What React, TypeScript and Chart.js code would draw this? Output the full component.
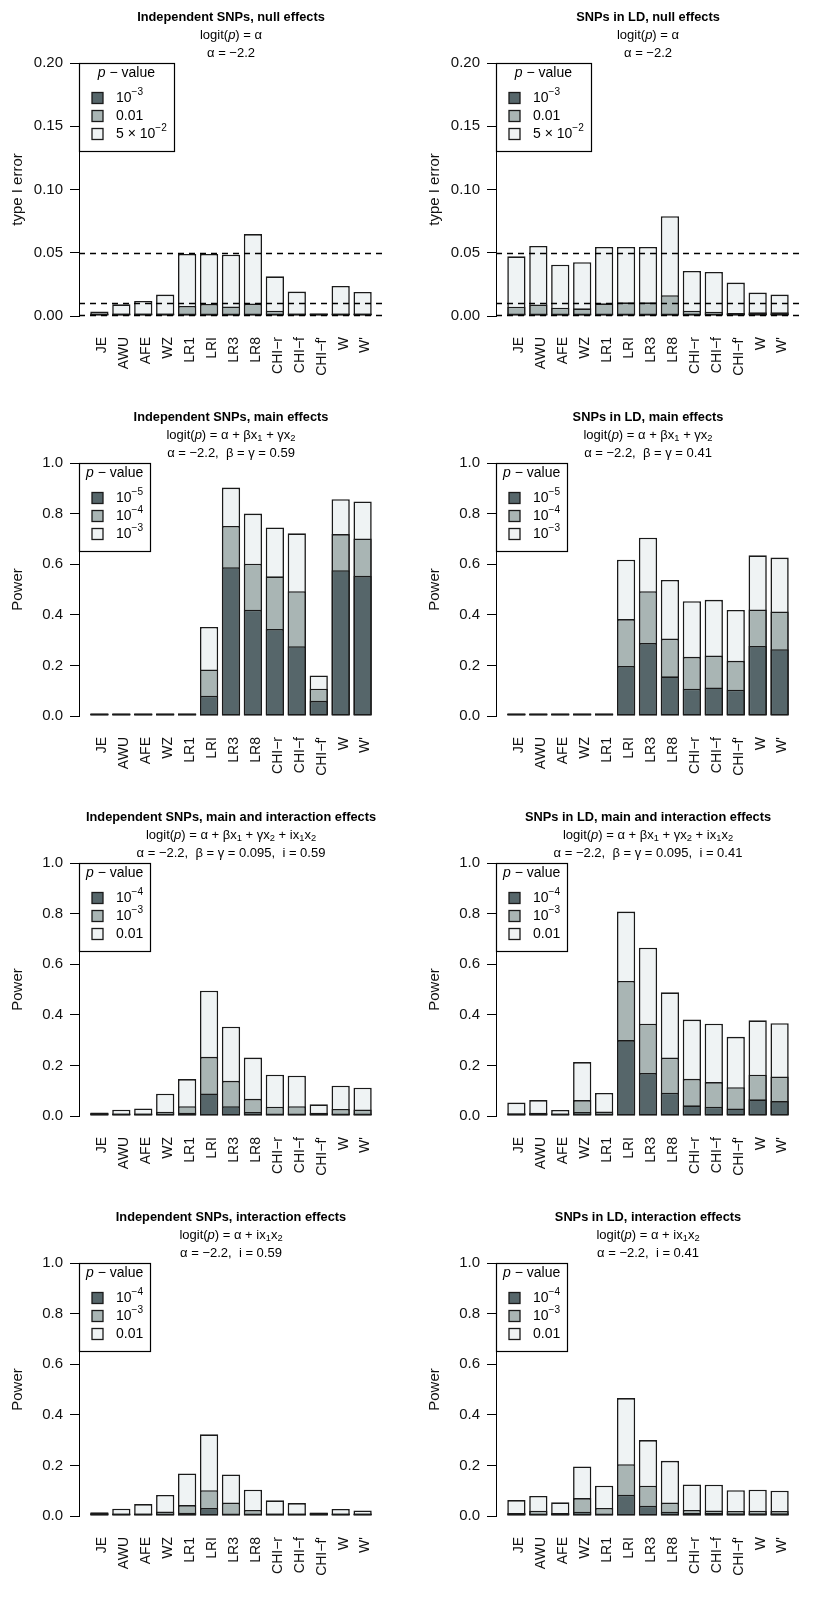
import React, { useEffect, useRef } from "react";
import { Chart, registerables } from "chart.js";

Chart.register(...registerables);

const FONT = '"Liberation Sans", Arial, Helvetica, sans-serif';

const CATEGORIES = ["JE", "AWU", "AFE", "WZ", "LR1", "LRI", "LR3", "LR8", "CHI\u2212r", "CHI\u2212f", "CHI\u2212f'", "W", "W'"];

const Y_TICKS_NULL = [0, 0.05, 0.1, 0.15, 0.2];
const Y_TICKS_POWER = [0, 0.2, 0.4, 0.6, 0.8, 1.0];
const NULL_THRESHOLDS = [0.05, 0.01, 0.001];

const LEGEND_NULL = ["10[\u22123]", "0.01", "5 \u00d7 10[\u22122]"];
const LEGEND_MAIN = ["10[\u22125]", "10[\u22124]", "10[\u22123]"];
const LEGEND_INT = ["10[\u22124]", "10[\u22123]", "0.01"];

// Panel 1: Independent SNPs, null effects
const indepNullDark = [0.0005, 0.0004, 0.0005, 0.0007, 0.001, 0.001, 0.0009, 0.0012, 0.0006, 0.0005, 0.0004, 0.0005, 0.0005];
const indepNullMid = [0.001, 0.0009, 0.0012, 0.002, 0.008, 0.0095, 0.0075, 0.0098, 0.0042, 0.002, 0.0008, 0.002, 0.0018];
const indepNullLight = [0.0035, 0.0092, 0.0119, 0.0169, 0.049, 0.049, 0.0485, 0.0648, 0.0314, 0.0193, 0.0012, 0.0237, 0.019];

// Panel 2: SNPs in LD, null effects
const ldNullDark = [0.001, 0.001, 0.0008, 0.0008, 0.0011, 0.0013, 0.0012, 0.0016, 0.0006, 0.0005, 0.0004, 0.0006, 0.0006];
const ldNullMid = [0.0074, 0.009, 0.0066, 0.0061, 0.01, 0.0108, 0.0108, 0.0164, 0.0042, 0.0034, 0.0024, 0.0029, 0.0029];
const ldNullLight = [0.0472, 0.0554, 0.0406, 0.0425, 0.0546, 0.0546, 0.0546, 0.0789, 0.0356, 0.0348, 0.0264, 0.0185, 0.0169];

// Panel 3: Independent SNPs, main effects
const indepMainDark = [0.001, 0.001, 0.002, 0.001, 0.001, 0.08, 0.588, 0.42, 0.344, 0.276, 0.06, 0.576, 0.554];
const indepMainMid = [0.002, 0.002, 0.003, 0.002, 0.001, 0.184, 0.751, 0.602, 0.552, 0.493, 0.108, 0.719, 0.702];
const indepMainLight = [0.003, 0.003, 0.004, 0.002, 0.002, 0.352, 0.903, 0.8, 0.745, 0.722, 0.16, 0.857, 0.848];

// Panel 4: SNPs in LD, main effects
const ldMainDark = [0.001, 0.001, 0.003, 0.003, 0.001, 0.198, 0.289, 0.157, 0.108, 0.113, 0.104, 0.277, 0.264];
const ldMainMid = [0.001, 0.002, 0.004, 0.004, 0.002, 0.383, 0.493, 0.306, 0.234, 0.239, 0.218, 0.421, 0.413];
const ldMainLight = [0.002, 0.003, 0.005, 0.005, 0.002, 0.618, 0.705, 0.538, 0.454, 0.459, 0.419, 0.635, 0.626];

// Panel 5: Independent SNPs, main and interaction effects
const indepBothDark = [0.004, 0.001, 0.003, 0.008, 0.013, 0.089, 0.039, 0.016, 0.008, 0.007, 0.004, 0.006, 0.006];
const indepBothMid = [0.012, 0.003, 0.006, 0.017, 0.039, 0.234, 0.139, 0.068, 0.037, 0.039, 0.013, 0.028, 0.026];
const indepBothLight = [0.014, 0.025, 0.03, 0.088, 0.146, 0.495, 0.353, 0.231, 0.163, 0.159, 0.046, 0.12, 0.112];

// Panel 6: SNPs in LD, main and interaction effects
const ldBothDark = [0.004, 0.005, 0.003, 0.016, 0.008, 0.3, 0.17, 0.092, 0.042, 0.037, 0.03, 0.066, 0.059];
const ldBothMid = [0.0105, 0.013, 0.005, 0.063, 0.018, 0.534, 0.365, 0.231, 0.147, 0.134, 0.114, 0.163, 0.156];
const ldBothLight = [0.053, 0.063, 0.024, 0.213, 0.091, 0.808, 0.665, 0.489, 0.381, 0.365, 0.313, 0.378, 0.367];

// Panel 7: Independent SNPs, interaction effects
const indepIntDark = [0.008, 0.001, 0.001, 0.005, 0.013, 0.032, 0.01, 0.005, 0.005, 0.002, 0.002, 0.002, 0.001];
const indepIntMid = [0.012, 0.002, 0.003, 0.018, 0.043, 0.102, 0.053, 0.024, 0.009, 0.005, 0.013, 0.004, 0.003];
const indepIntLight = [0.015, 0.029, 0.047, 0.083, 0.168, 0.323, 0.164, 0.104, 0.062, 0.051, 0.014, 0.028, 0.022];

// Panel 8: SNPs in LD, interaction effects
const ldIntDark = [0.006, 0.009, 0.006, 0.017, 0.01, 0.084, 0.041, 0.017, 0.012, 0.012, 0.011, 0.011, 0.011];
const ldIntMid = [0.012, 0.021, 0.012, 0.071, 0.032, 0.205, 0.12, 0.053, 0.024, 0.022, 0.02, 0.021, 0.02];
const ldIntLight = [0.063, 0.079, 0.054, 0.196, 0.12, 0.466, 0.3, 0.218, 0.125, 0.124, 0.102, 0.104, 0.1];

const DARK = "#56666a";
const MID = "#a9b5b4";
const LIGHT = "#eff3f4";
const EDGE = "#1a1a1a";

const PANELS = [
  { titles: ["Independent SNPs, null effects", "logit(_p_) = \u03b1", "\u03b1 = \u22122.2"], yTitle: "type I error", yTicks: Y_TICKS_NULL, dec: 2, legend: LEGEND_NULL, thresholds: NULL_THRESHOLDS, dark: indepNullDark, mid: indepNullMid, light: indepNullLight },
  { titles: ["SNPs in LD, null effects", "logit(_p_) = \u03b1", "\u03b1 = \u22122.2"], yTitle: "type I error", yTicks: Y_TICKS_NULL, dec: 2, legend: LEGEND_NULL, thresholds: NULL_THRESHOLDS, dark: ldNullDark, mid: ldNullMid, light: ldNullLight },
  { titles: ["Independent SNPs, main effects", "logit(_p_) = \u03b1 + \u03b2x{1} + \u03b3x{2}", "\u03b1 = \u22122.2,  \u03b2 = \u03b3 = 0.59"], yTitle: "Power", yTicks: Y_TICKS_POWER, dec: 1, legend: LEGEND_MAIN, thresholds: null, dark: indepMainDark, mid: indepMainMid, light: indepMainLight },
  { titles: ["SNPs in LD, main effects", "logit(_p_) = \u03b1 + \u03b2x{1} + \u03b3x{2}", "\u03b1 = \u22122.2,  \u03b2 = \u03b3 = 0.41"], yTitle: "Power", yTicks: Y_TICKS_POWER, dec: 1, legend: LEGEND_MAIN, thresholds: null, dark: ldMainDark, mid: ldMainMid, light: ldMainLight },
  { titles: ["Independent SNPs, main and interaction effects", "logit(_p_) = \u03b1 + \u03b2x{1} + \u03b3x{2} + ix{1}x{2}", "\u03b1 = \u22122.2,  \u03b2 = \u03b3 = 0.095,  i = 0.59"], yTitle: "Power", yTicks: Y_TICKS_POWER, dec: 1, legend: LEGEND_INT, thresholds: null, dark: indepBothDark, mid: indepBothMid, light: indepBothLight },
  { titles: ["SNPs in LD, main and interaction effects", "logit(_p_) = \u03b1 + \u03b2x{1} + \u03b3x{2} + ix{1}x{2}", "\u03b1 = \u22122.2,  \u03b2 = \u03b3 = 0.095,  i = 0.41"], yTitle: "Power", yTicks: Y_TICKS_POWER, dec: 1, legend: LEGEND_INT, thresholds: null, dark: ldBothDark, mid: ldBothMid, light: ldBothLight },
  { titles: ["Independent SNPs, interaction effects", "logit(_p_) = \u03b1 + ix{1}x{2}", "\u03b1 = \u22122.2,  i = 0.59"], yTitle: "Power", yTicks: Y_TICKS_POWER, dec: 1, legend: LEGEND_INT, thresholds: null, dark: indepIntDark, mid: indepIntMid, light: indepIntLight },
  { titles: ["SNPs in LD, interaction effects", "logit(_p_) = \u03b1 + ix{1}x{2}", "\u03b1 = \u22122.2,  i = 0.41"], yTitle: "Power", yTicks: Y_TICKS_POWER, dec: 1, legend: LEGEND_INT, thresholds: null, dark: ldIntDark, mid: ldIntMid, light: ldIntLight },
];

type Seg = { t: string; italic: boolean; sub: boolean; sup: boolean; w?: number };

function parseRich(text: string): Seg[] {
  const segs: Seg[] = [];
  let italic = false, sub = false, sup = false, cur = "";
  const push = () => { if (cur) segs.push({ t: cur, italic, sub, sup }); cur = ""; };
  for (const ch of text) {
    if (ch === "_") { push(); italic = !italic; }
    else if (ch === "{") { push(); sub = true; }
    else if (ch === "}") { push(); sub = false; }
    else if (ch === "[") { push(); sup = true; }
    else if (ch === "]") { push(); sup = false; }
    else cur += ch;
  }
  push();
  return segs;
}

function drawRich(ctx: CanvasRenderingContext2D, text: string, x: number, y: number, size: number, bold: boolean, align: "center" | "left", measureOnly = false): number {
  const segs = parseRich(text);
  const fontFor = (s: Seg) => `${s.italic ? "italic " : ""}${bold ? "bold " : ""}${s.sub || s.sup ? size * 0.72 : size}px ${FONT}`;
  let total = 0;
  for (const s of segs) { ctx.font = fontFor(s); s.w = ctx.measureText(s.t).width; total += s.w; }
  if (measureOnly) return total;
  let cx = align === "center" ? x - total / 2 : x;
  ctx.textAlign = "left";
  ctx.textBaseline = "middle";
  for (const s of segs) {
    ctx.font = fontFor(s);
    const dy = s.sub ? size * 0.3 : s.sup ? -size * 0.42 : 0;
    ctx.fillText(s.t, cx, y + dy);
    cx += s.w || 0;
  }
  return total;
}

function makeDecor(cfg: any) {
  return {
    id: "panelDecor",
    afterDatasetsDraw(chart: any) {
      const { ctx, chartArea: ca, scales } = chart;
      ctx.save();
      if (cfg.thresholds) {
        ctx.strokeStyle = "#000";
        ctx.lineWidth = 1.3;
        ctx.setLineDash([6, 5]);
        for (const t of cfg.thresholds) {
          const y = Math.round(scales.y.getPixelForValue(t)) + 0.5;
          ctx.beginPath();
          ctx.moveTo(ca.left, y);
          ctx.lineTo(ca.right, y);
          ctx.stroke();
        }
        ctx.setLineDash([]);
      }
      const cx = (ca.left + ca.right) / 2;
      ctx.fillStyle = "#000";
      drawRich(ctx, cfg.titles[0], cx, 17, 12.8, true, "center");
      drawRich(ctx, cfg.titles[1], cx, 35, 13, false, "center");
      drawRich(ctx, cfg.titles[2], cx, 53, 13, false, "center");

      // legend
      const size = 14;
      const titleW = drawRich(ctx, "_p_ \u2212 value", 0, 0, size, false, "left", true);
      let maxW = 0;
      for (const l of cfg.legend) maxW = Math.max(maxW, drawRich(ctx, l, 0, 0, size, false, "left", true));
      const bw = Math.max(37 + maxW + 7, titleW + 14);
      const bx = ca.left, by = ca.top, bh = 88;
      ctx.fillStyle = "#fff";
      ctx.fillRect(bx, by, bw, bh);
      ctx.strokeStyle = "#000";
      ctx.lineWidth = 1.2;
      ctx.strokeRect(Math.round(bx) + 0.5, Math.round(by) + 0.5, Math.round(bw), bh);
      ctx.fillStyle = "#000";
      drawRich(ctx, "_p_ \u2212 value", bx + bw / 2, by + 10, size, false, "center");
      const fills = [DARK, MID, LIGHT];
      cfg.legend.forEach((l: string, i: number) => {
        const iy = by + 35 + i * 18;
        ctx.fillStyle = fills[i];
        ctx.fillRect(bx + 13, iy - 5.5, 11, 11);
        ctx.strokeStyle = EDGE;
        ctx.lineWidth = 1.3;
        ctx.strokeRect(bx + 13, iy - 5.5, 11, 11);
        ctx.fillStyle = "#000";
        drawRich(ctx, l, bx + 37, iy, size, false, "left");
      });
      ctx.restore();
    },
  };
}

function Panel({ cfg, left, top }: { cfg: any; left: number; top: number }) {
  const ref = useRef<HTMLCanvasElement>(null);
  useEffect(() => {
    const toPts = (arr: number[]) => arr.map((v, i) => ({ x: i, y: v }));
    const xFont = { family: FONT, size: 14 };
    const yFont = { family: FONT, size: 15 };
    const chart = new Chart(ref.current as HTMLCanvasElement, {
      type: "bar",
      data: {
        datasets: [
          { label: cfg.legend[0], data: toPts(cfg.dark), backgroundColor: DARK },
          { label: cfg.legend[1], data: toPts(cfg.mid), backgroundColor: MID },
          { label: cfg.legend[2], data: toPts(cfg.light), backgroundColor: LIGHT },
        ],
      } as any,
      options: {
        responsive: false,
        animation: false,
        devicePixelRatio: 1,
        events: [],
        layout: { padding: { left: 0, right: 34, top: 63, bottom: 0 } },
        datasets: {
          bar: {
            grouped: false,
            barPercentage: 0.833,
            categoryPercentage: 1,
            borderWidth: 1.6,
            borderColor: EDGE,
            borderSkipped: false,
            minBarLength: 2.5,
          },
        },
        plugins: { legend: { display: false }, tooltip: { enabled: false }, title: { display: false } },
        scales: {
          x: {
            type: "linear",
            offset: false,
            min: -0.93,
            max: 12.93,
            afterBuildTicks: (s: any) => { s.ticks = CATEGORIES.map((_, i) => ({ value: i })); },
            afterFit: (s: any) => { s.height = 84; s.paddingLeft = 0; s.paddingRight = 0; },
            ticks: {
              autoSkip: false,
              maxRotation: 90,
              minRotation: 90,
              padding: 21,
              labelOffset: 3,
              font: xFont,
              color: "#111",
              callback: (v: any) => CATEGORIES[Math.round(Number(v))] ?? "",
            },
            grid: { display: false, drawTicks: false },
            border: { display: false },
          },
          y: {
            min: 0,
            max: cfg.yTicks[cfg.yTicks.length - 1],
            afterBuildTicks: (s: any) => { s.ticks = cfg.yTicks.map((v: number) => ({ value: v })); },
            afterFit: (s: any) => { s.width = 79; },
            ticks: { padding: 7, font: yFont, color: "#111", callback: (v: any) => Number(v).toFixed(cfg.dec) },
            grid: { drawOnChartArea: false, tickLength: 9, color: "#000", lineWidth: 1 },
            border: { color: "#000", width: 1 },
            title: { display: true, text: cfg.yTitle, font: yFont, color: "#111", padding: { top: 9, bottom: 0 } },
          },
        } as any,
      } as any,
      plugins: [makeDecor(cfg)],
    });
    return () => chart.destroy();
  }, [cfg]);
  return (
    <canvas
      ref={ref}
      width={417}
      height={400}
      style={{ position: "absolute", left, top, width: 417, height: 400 }}
    />
  );
}

export default function App() {
  return (
    <div style={{ position: "absolute", left: 0, top: 0, width: 834, height: 1600, background: "#fff" }}>
      {PANELS.map((cfg, i) => (
        <Panel key={i} cfg={cfg} left={(i % 2) * 417} top={Math.floor(i / 2) * 400} />
      ))}
    </div>
  );
}
